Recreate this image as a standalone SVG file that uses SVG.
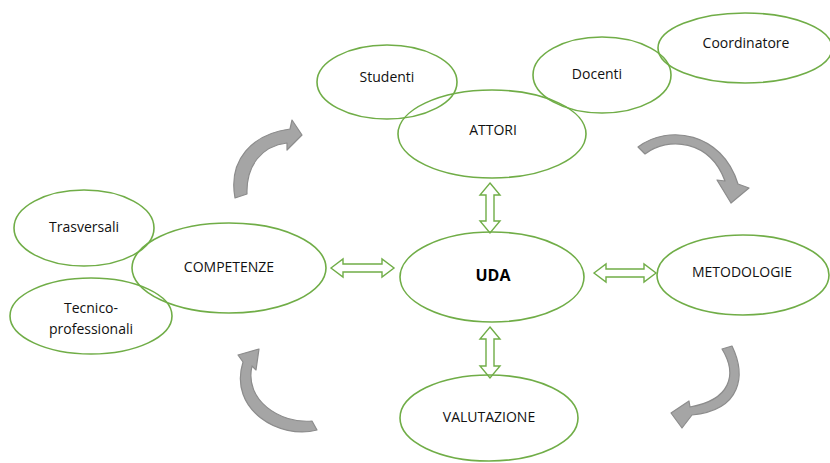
<svg xmlns="http://www.w3.org/2000/svg" width="830" height="463" viewBox="0 0 830 463">
  <style>
    .node ellipse { fill: none; stroke: #70AD47; stroke-width: 1.6; }
    .node text { font-family: "Open Sans", "Noto Sans", sans-serif; font-size: 14px; fill: #111; text-anchor: middle; }
    .node text.main { font-size: 16px; font-weight: bold; fill: #000; }
    .link { fill: #fff; stroke: #70AD47; stroke-width: 1.4; stroke-linejoin: miter; }
    .cycle { fill: #A5A5A5; stroke: #8C8C8C; stroke-width: 1.2; stroke-linejoin: round; }
  </style>
  <rect width="830" height="463" fill="#fff"/>

  <!-- cycle arrows -->
  <g id="cycle-arrows">
    <path class="cycle" d="M 235 198 C 228 160, 252 134, 290 129 L 292 120 L 302 135 L 287 150 L 287 143 C 262 146, 246 165, 247 194 Z"/>
    <path class="cycle" d="M 638 147 C 668 124, 722 132, 738 184 L 749 188 L 731 203 L 717 180 L 725 181 C 710 140, 668 136, 645 154 Z"/>
    <path class="cycle" d="M 732 346 C 746 375, 742 410, 692 415 L 682 428 L 671 413 L 689 401 L 690 407 C 730 400, 738 375, 722 349 Z"/>
    <path class="cycle" d="M 317 430 C 280 440, 228 410, 243 362 L 238 355 L 259 349 L 256 370 L 252 366 C 244 400, 280 424, 312 421 Z"/>
  </g>

  <!-- double-headed connectors around UDA -->
  <g id="connectors">
    <path class="link" d="M 490 183 L 500 195 L 494 195 L 494 221 L 500 221 L 490 233 L 480 221 L 486 221 L 486 195 L 480 195 Z"/>
    <path class="link" d="M 490 327 L 500 339 L 494 339 L 494 366 L 500 366 L 490 378 L 480 366 L 486 366 L 486 339 L 480 339 Z"/>
    <path class="link" d="M 331 268 L 343 259 L 343 264 L 382 264 L 382 259 L 394 268 L 382 277 L 382 272 L 343 272 L 343 277 Z"/>
    <path class="link" d="M 594 273 L 606 264 L 606 269 L 644 269 L 644 264 L 656 273 L 644 282 L 644 277 L 606 277 L 606 282 Z"/>
  </g>

  <g id="studenti" class="node">
    <ellipse cx="387" cy="82" rx="70" ry="37"/>
    <text x="387" y="82">Studenti</text>
  </g>
  <g id="attori" class="node">
    <ellipse cx="492" cy="134" rx="94" ry="44"/>
    <text x="493" y="135">ATTORI</text>
  </g>
  <g id="docenti" class="node">
    <ellipse cx="602" cy="75" rx="69" ry="38"/>
    <text x="597" y="79">Docenti</text>
  </g>
  <g id="coordinatore" class="node">
    <ellipse cx="745" cy="48" rx="87" ry="35"/>
    <text x="746" y="48">Coordinatore</text>
  </g>
  <g id="trasversali" class="node">
    <ellipse cx="84" cy="228" rx="70" ry="38"/>
    <text x="84" y="232">Trasversali</text>
  </g>
  <g id="competenze" class="node">
    <ellipse cx="229" cy="268" rx="97" ry="45"/>
    <text x="229" y="272">COMPETENZE</text>
  </g>
  <g id="tecnico-professionali" class="node">
    <ellipse cx="91" cy="316" rx="81" ry="38"/>
    <text x="91" y="313">Tecnico-</text>
    <text x="91" y="334">professionali</text>
  </g>
  <g id="uda" class="node">
    <ellipse cx="492" cy="277" rx="92" ry="45"/>
    <text class="main" x="493" y="281">UDA</text>
  </g>
  <g id="metodologie" class="node">
    <ellipse cx="743" cy="275" rx="86" ry="40"/>
    <text x="742" y="277">METODOLOGIE</text>
  </g>
  <g id="valutazione" class="node">
    <ellipse cx="489" cy="418" rx="89" ry="43"/>
    <text x="489" y="422">VALUTAZIONE</text>
  </g>
</svg>
